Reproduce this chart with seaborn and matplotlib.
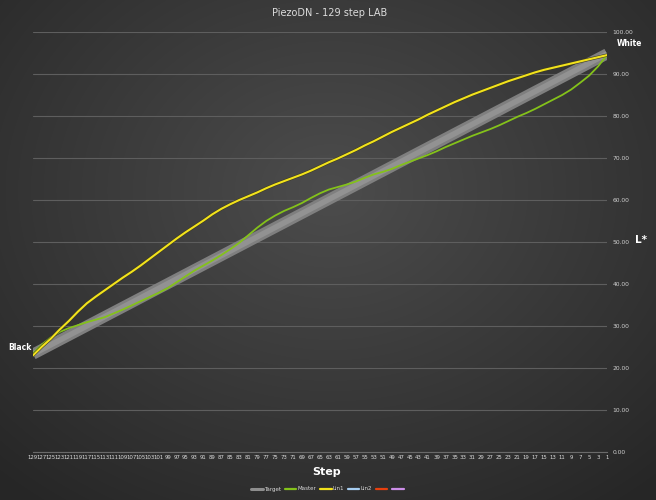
import numpy as np
import pandas as pd
import matplotlib
matplotlib.use("Agg")
import matplotlib.pyplot as plt
import matplotlib.patheffects as pe
from matplotlib.lines import Line2D
import seaborn as sns

# ---------------- data ----------------
steps = [str(s) for s in range(129, 0, -2)]  # category labels 129 ... 1

master_L = [23.5, 25.6, 27.3, 28.6, 29.5, 30.2, 30.9, 31.5, 32.1, 33.0,
            33.9, 34.9, 35.9, 36.9, 37.9, 39.0, 40.4, 41.8, 43.2, 44.4,
            45.6, 46.9, 48.3, 49.8, 51.6, 53.4, 55.0, 56.3, 57.4, 58.3,
            59.3, 60.5, 61.6, 62.5, 63.1, 63.7, 64.4, 65.3, 66.1, 66.7,
            67.4, 68.3, 69.1, 69.9, 70.7, 71.6, 72.6, 73.5, 74.4, 75.3,
            76.1, 76.9, 77.8, 78.8, 79.8, 80.7, 81.7, 82.8, 83.9, 85.0,
            86.3, 87.9, 89.6, 91.8, 94.5]

lin1_L = [23.0, 25.1, 27.0, 29.2, 31.2, 33.4, 35.4, 37.0, 38.5, 40.0,
          41.5, 42.9, 44.4, 46.0, 47.6, 49.2, 50.8, 52.3, 53.7, 55.1,
          56.6, 57.9, 59.0, 60.0, 60.9, 61.8, 62.8, 63.7, 64.5, 65.3,
          66.1, 67.0, 68.0, 69.0, 69.9, 70.9, 71.9, 73.0, 74.0, 75.1,
          76.2, 77.2, 78.2, 79.2, 80.3, 81.3, 82.3, 83.3, 84.2, 85.1,
          85.9, 86.7, 87.5, 88.3, 89.0, 89.7, 90.4, 91.0, 91.5, 92.0,
          92.5, 93.0, 93.5, 94.0, 94.5]

target_steps = ["129", "1"]
target_L = [23.3, 94.8]

y_ticks = [0, 10, 20, 30, 40, 50, 60, 70, 80, 90, 100]
legend_labels = ["Target", "Master", "Lin1", "Lin2", "", ""]
legend_colors = ["#8e8e8e", "#84c21a", "#f2e21c", "#a6cdf0", "#e8400e", "#cc8ee8"]

# ---------------- figure ----------------
sns.set_style("dark")
plt.rcParams["font.family"] = ["DejaVu Sans"]

fig = plt.figure(figsize=(6.56, 5.0), dpi=100)

# radial dark background
bg = fig.add_axes([0, 0, 1, 1], zorder=-10)
yy, xx = np.mgrid[0:500, 0:656]
r = np.sqrt(((xx - 330) / 520.0) ** 2 + ((yy - 190) / 420.0) ** 2)
lum = np.clip(0.300 - 0.16 * r, 0.15, 0.30)
img = np.dstack([lum, lum, lum])
bg.imshow(img, aspect="auto", extent=[0, 1, 0, 1], origin="upper")
bg.set_axis_off()

ax = fig.add_axes([33 / 656, 48 / 500, (607 - 33) / 656, (452 - 32) / 500])
ax.set_facecolor("none")

# series
sns.lineplot(x=steps, y=master_L, ax=ax, color=legend_colors[1], lw=1.3,
             sort=False, estimator=None, zorder=4)
sns.lineplot(x=target_steps, y=target_L, ax=ax, color="#7f7f7f", lw=8.0,
             sort=False, estimator=None, zorder=2, solid_capstyle="butt")
sns.lineplot(x=target_steps, y=target_L, ax=ax, color="#929292", lw=4.0,
             sort=False, estimator=None, zorder=2, solid_capstyle="butt")
sns.lineplot(x=steps, y=lin1_L, ax=ax, color=legend_colors[2], lw=1.5,
             sort=False, estimator=None, zorder=5,
             path_effects=[pe.Stroke(linewidth=2.3, foreground="#3a3a20"), pe.Normal()])

ax.set_xlim(0, 64)
ax.set_ylim(0, 100)

# grid / axes
ax.set_yticks(y_ticks)
ax.yaxis.tick_right()
ax.set_yticklabels([f"{v:.2f}" for v in y_ticks], fontsize=4.3, color="#d0d0d0")
ax.tick_params(axis="y", length=0, pad=4)
ax.tick_params(axis="x", length=0, pad=2.5, labelsize=3.9, labelcolor="#dcdcdc")
ax.grid(axis="y", color="#5e5e5e", lw=0.8)
ax.grid(axis="x", visible=False)
for s in ["top", "left", "right"]:
    ax.spines[s].set_visible(False)
ax.spines["bottom"].set_color("#6a6a6a")
ax.spines["bottom"].set_linewidth(0.8)
ax.set_xlabel("")
ax.set_ylabel("")

# texts
fig.text(330 / 656, 1 - 13 / 500, "PiezoDN - 129 step LAB", ha="center", va="center",
         fontsize=7, color="#dcdcdc")
fig.text(327 / 656, 1 - 472 / 500, "Step", ha="center", va="center",
         fontsize=8, fontweight="bold", color="white")
fig.text(641 / 656, 1 - 240 / 500, "L*", ha="center", va="center",
         fontsize=7.5, fontweight="bold", color="white")
fig.text(629 / 656, 1 - 44 / 500, "White", ha="center", va="center",
         fontsize=5.5, fontweight="bold", color="white")
fig.text(20 / 656, 1 - 347 / 500, "Black", ha="center", va="center",
         fontsize=5.5, fontweight="bold", color="white")

# legend
handles = [Line2D([], [], color=c, lw=2.2 if i == 0 else 1.6)
           for i, c in enumerate(legend_colors)]
leg = fig.legend(handles, legend_labels, loc="center", bbox_to_anchor=(328 / 656, 1 - 489 / 500),
                 ncol=6, frameon=False, fontsize=4.0, handlelength=2.1, handletextpad=0.15,
                 columnspacing=0.7, labelcolor="#d8d8d8")

fig.savefig("out.png", dpi=100)
